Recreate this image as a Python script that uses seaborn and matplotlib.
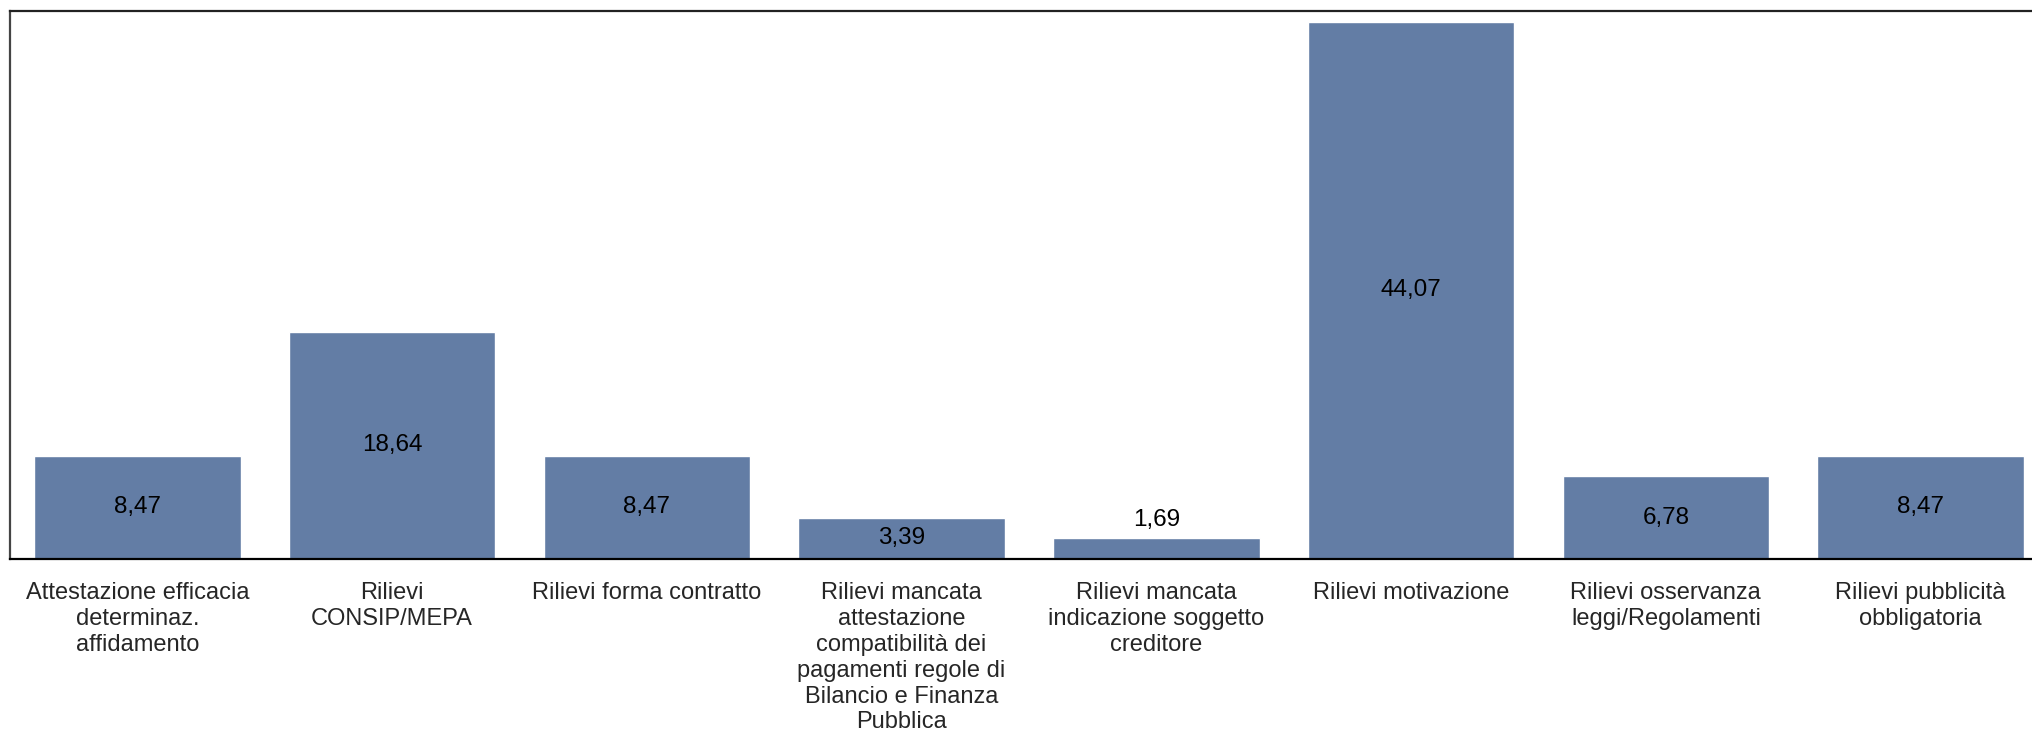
import matplotlib
matplotlib.use("Agg")
import matplotlib.pyplot as plt
import seaborn as sns
import pandas as pd

categories = [
    "Attestazione efficacia\ndeterminaz.\naffidamento",
    "Rilievi\nCONSIP/MEPA",
    "Rilievi forma contratto",
    "Rilievi mancata\nattestazione\ncompatibilità dei\npagamenti regole di\nBilancio e Finanza\nPubblica",
    "Rilievi mancata\nindicazione soggetto\ncreditore",
    "Rilievi motivazione",
    "Rilievi osservanza\nleggi/Regolamenti",
    "Rilievi pubblicità\nobbligatoria",
]
values = [8.47, 18.64, 8.47, 3.39, 1.69, 44.07, 6.78, 8.47]
value_labels = ["8,47", "18,64", "8,47", "3,39", "1,69", "44,07", "6,78", "8,47"]

sns.set_style("white")
plt.rcParams["font.family"] = ["Liberation Sans", "DejaVu Sans"]

df = pd.DataFrame({"cat": categories, "val": values})

fig = plt.figure(figsize=(20.33, 7.33), dpi=100)
ax = fig.add_axes([10 / 2033, 174 / 733, 2038 / 2033, 548 / 733])
sns.barplot(data=df, x="cat", y="val", color="#637DA5", saturation=1,
            width=0.81, ax=ax)
ax.set_xlim(-0.5, 7.5)
ax.set_ylim(0, 44.97)
ax.set_xlabel("")
ax.set_ylabel("")
ax.set_yticks([])
ax.tick_params(axis="x", length=0, pad=16.5, labelsize=17)
for lbl in ax.get_xticklabels():
    lbl.set_horizontalalignment("center")
    lbl.set_linespacing(1.23)

for i, (v, t) in enumerate(zip(values, value_labels)):
    if v < 3:
        ax.annotate(t, (i, v), xytext=(0, 13), textcoords="offset points",
                    ha="center", va="center", fontsize=17.5, color="black")
    else:
        ax.text(i, v / 2, t, ha="center", va="center", fontsize=17.5, color="black")

for side in ["top", "left", "bottom"]:
    ax.spines[side].set_visible(True)
    ax.spines[side].set_linewidth(1.6)
ax.spines["bottom"].set_color("black")
ax.spines["top"].set_color("#222222")
ax.spines["left"].set_color("#444444")
ax.spines["right"].set_visible(False)

fig.savefig("out.png", dpi=100, facecolor="white")
